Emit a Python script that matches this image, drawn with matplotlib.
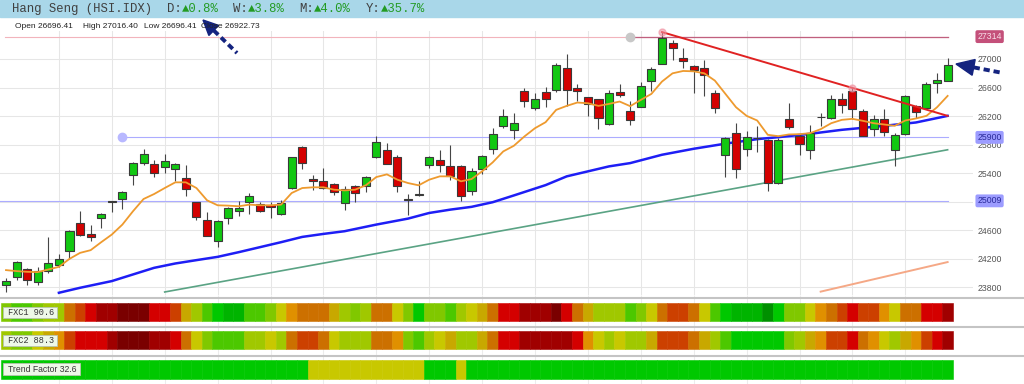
import numpy as np
import matplotlib
matplotlib.use("Agg")
from matplotlib import pyplot as plt
from matplotlib.patches import Rectangle, Polygon

plt.rcParams['font.family'] = ['Liberation Sans', 'DejaVu Sans']

# --- daily candles ---
opens = [23827, 23939, 24055, 23873, 24027, 24107, 24303, 24704, 24545, 24765,
         24989, 25035, 25367, 25539, 25530, 25479, 25460, 25334, 24989, 24746,
         24447, 24765, 24867, 24989, 24965, 24956, 24825, 25185, 25768, 25315,
         25292, 25245, 24979, 25222, 25213, 25619, 25717, 25628, 25035, 25091,
         25516, 25586, 25502, 25497, 25152, 25455, 25735, 26053, 26001, 26552,
         26314, 26538, 26566, 26869, 26589, 26463, 26435, 26085, 26538, 26277,
         26333, 26687, 26935, 27219, 27009, 26902, 26869, 26529, 25647, 25959,
         25731, 25885, 25866, 25259, 26160, 25913, 25726, 26179, 26169, 26435,
         26552, 26272, 26015, 26160, 25721, 25950, 26347, 26319, 26659, 26696.41]
highs = [23929, 24163, 24069, 24083, 24503, 24270, 24600, 24867, 24676, 24839,
         25012, 25143, 25553, 25740, 25586, 25665, 25535, 25507, 24998, 24853,
         24741, 24923, 25003, 25119, 24993, 24989, 25021, 25628, 25777, 25367,
         25469, 25259, 25213, 25231, 25353, 25922, 25819, 25656, 25105, 25287,
         25637, 25726, 25791, 25507, 25469, 25656, 26029, 26305, 26244, 26589,
         26529, 26613, 26939, 27070, 26645, 26473, 26445, 26566, 26650, 26407,
         26683, 26893, 27378, 27266, 27149, 26916, 26986, 26566, 25899, 26099,
         25983, 26053, 25875, 25889, 26379, 25945, 26076, 26249, 26496, 26529,
         26613, 26295, 26216, 26295, 25959, 26496, 26356, 26678, 26799, 27016.40]
lows = [23729, 23897, 23827, 23822, 23999, 24083, 24195, 24522, 24447, 24629,
        24849, 24895, 25227, 25511, 25348, 25399, 25287, 25073, 24741, 24513,
        24368, 24681, 24793, 24825, 24853, 24774, 24807, 25175, 25451, 25166,
        25175, 25087, 24886, 24998, 25138, 25605, 25521, 25133, 24807, 25082,
        25469, 25418, 25306, 25012, 25087, 25390, 25670, 26025, 25875, 26333,
        26281, 26333, 26543, 26347, 26417, 26197, 26015, 26071, 26463, 26067,
        26323, 26557, 26925, 26986, 26879, 26519, 26482, 26249, 25339, 25329,
        25633, 25689, 25152, 25250, 26015, 25656, 25595, 26062, 26160, 26249,
        26155, 25913, 25913, 25913, 25493, 25936, 26169, 26309, 26519, 26696.41]
closes = [23887, 24149, 23897, 24023, 24135, 24195, 24592, 24531, 24503, 24825,
          25003, 25129, 25544, 25665, 25404, 25567, 25525, 25180, 24783, 24522,
          24732, 24905, 24905, 25082, 24863, 24923, 24975, 25619, 25539, 25283,
          25185, 25133, 25175, 25124, 25343, 25829, 25530, 25213, 25021, 25105,
          25623, 25507, 25353, 25073, 25423, 25637, 25941, 26202, 26095, 26407,
          26445, 26445, 26911, 26561, 26557, 26375, 26174, 26529, 26501, 26141,
          26627, 26860, 27294, 27154, 26977, 26841, 26776, 26309, 25889, 25455,
          25903, 25894, 25259, 25866, 26043, 25801, 25959, 26188, 26435, 26361,
          26295, 25917, 26160, 25973, 25936, 26487, 26253, 26650, 26701, 26922.73]

# short average (orange), one value per candle
ma_short = [24037, 24023, 24013, 24009, 24046, 24083, 24195, 24279, 24317, 24429,
            24536, 24676, 24863, 25035, 25105, 25189, 25269, 25269, 25189, 25017,
            24947, 24942, 24933, 24956, 24947, 24947, 24956, 25119, 25189, 25199,
            25199, 25166, 25156, 25166, 25227, 25343, 25381, 25306, 25259, 25227,
            25306, 25353, 25353, 25283, 25315, 25423, 25549, 25703, 25782, 25913,
            26029, 26113, 26286, 26342, 26389, 26379, 26342, 26370, 26403, 26338,
            26426, 26510, 26683, 26799, 26832, 26827, 26799, 26697, 26510, 26323,
            26202, 26137, 25936, 25917, 25941, 25945, 25959, 26015, 26099, 26146,
            26160, 26132, 26099, 26081, 26062, 26137, 26165, 26202, 26323, 26482]

# long average (blue), read at some candles
ma_long_idx = [5, 7, 10, 12, 14, 16, 18, 20, 22, 24, 26, 28, 30, 32, 35, 38, 40, 42,
               44, 46, 48, 51, 53, 55, 57, 59, 62, 65, 68, 71, 73, 76, 79, 83, 86, 89]
ma_long = [23719, 23789, 23883, 23976, 24069, 24130, 24177, 24223, 24289, 24359,
           24429, 24503, 24545, 24583, 24676, 24760, 24839, 24886, 24925, 24990,
           25085, 25230, 25353, 25423, 25493, 25539, 25656, 25740, 25812, 25875,
           25903, 25950, 26006, 26062, 26109, 26202]

# drawn trend lines (candle index, price)
res_idx, res_val = [62, 89], [27378, 26202]
sup_idx, sup_val = [15, 89], [23730, 25726]
low_idx, low_val = [77, 89], [23735, 24150]

# horizontal levels
lvl_resist, lvl_mid, lvl_low = 27314, 25900, 25009
lvl_resist_from, lvl_mid_from = 59, 11

# indicator strips: colour level per candle (0 = deep red ... 13 = dark green)
fxc1 = [9, 10, 10, 9, 8, 8, 4, 3, 2, 1, 1, 0, 0, 0, 2, 2, 3, 6, 8, 10,
        11, 12, 12, 10, 10, 9, 7, 5, 4, 4, 4, 6, 8, 9, 8, 4, 4, 7, 9, 11,
        9, 9, 10, 8, 7, 6, 4, 2, 2, 1, 1, 1, 0, 2, 4, 6, 8, 8, 8, 10,
        9, 7, 4, 3, 3, 4, 7, 10, 11, 12, 12, 12, 13, 11, 9, 9, 7, 5, 4, 3,
        2, 3, 3, 5, 7, 4, 4, 2, 2, 1]
fxc2 = [8, 9, 9, 7, 6, 5, 3, 2, 2, 2, 1, 0, 0, 0, 1, 1, 2, 4, 7, 9,
        10, 10, 10, 8, 8, 7, 8, 4, 3, 3, 4, 7, 8, 8, 8, 4, 4, 5, 9, 10,
        8, 7, 6, 8, 8, 6, 4, 2, 2, 1, 1, 1, 1, 1, 2, 5, 7, 8, 7, 8,
        8, 6, 3, 3, 3, 4, 6, 8, 10, 11, 11, 11, 11, 11, 9, 8, 6, 5, 3, 3,
        2, 4, 5, 7, 8, 6, 5, 3, 2, 1]
trend = [11] * 29 + [7] * 11 + [11] * 3 + [7] + [11] * 46
fxc1_value, fxc2_value, trend_value = 90.6, 88.3, 32.6

palette = ['#7a0000', '#a00000', '#d40000', '#cc4000', '#cc7000', '#e09000', '#c8a800',
           '#c8c800', '#a0c800', '#80c800', '#4cc800', '#00c800', '#00b400', '#009000']

index_name = "Hang Seng (HSI.IDX)"
periods = ['D', 'W', 'M', 'Y']
changes = [0.8, 3.8, 4.0, 35.7]

price_ticks = [23800, 24200, 24600, 25000, 25400, 25800, 26200, 26600, 27000]

# --- layout helpers (pixels of the 1024x384 picture) ---
W, H = 1024, 384
X0, DX = 6.0, 10.58
PRICE0, PY0, PPP = 27000, 59, 14.035


def idx_of(px):
    return (px - X0) / DX


def price_of(py):
    return PRICE0 - (py - PY0) * PPP


fig = plt.figure(figsize=(W / 100, H / 100), dpi=100)
top_px, bot_px, right_px = 31, 295, 973

# main price panel
ax = fig.add_axes([0, 1 - bot_px / H, right_px / W, (bot_px - top_px) / H])
ax.set_xlim(idx_of(0), idx_of(right_px))
ax.set_ylim(price_of(bot_px), price_of(top_px))
for s in ax.spines.values():
    s.set_visible(False)
ax.set_xticks(range(5, 90, 5))
ax.tick_params(axis='x', length=0, labelbottom=False)
ax.yaxis.tick_right()
ax.set_yticks(price_ticks)
ax.set_yticklabels(['' if t == 25000 else str(t) for t in price_ticks])
ax.tick_params(axis='y', length=0, pad=3.2, labelsize=6.3, labelcolor='#555555')
ax.grid(True, color='#e6e6e6', lw=0.75)
ax.set_axisbelow(True)

x = np.arange(len(opens))
o, h, l, c = map(np.array, (opens, highs, lows, closes))
body_col = np.where(c >= o, '#12c812', '#d40000')

# levels
ax.plot([idx_of(5), 89], [lvl_resist] * 2, color='#f2b4bc', lw=0.8, zorder=2)
ax.plot([lvl_resist_from, 89], [lvl_resist] * 2, color='#c0607e', lw=0.9, zorder=2)
ax.plot([lvl_mid_from, 89], [lvl_mid] * 2, color='#acacff', lw=0.8, zorder=2)
ax.plot([idx_of(0), 89], [lvl_low] * 2, color='#acacff', lw=0.8, zorder=2)
ax.plot(lvl_resist_from, lvl_resist, 'o', ms=6, color='#c8c8c8', zorder=3)
ax.plot(lvl_mid_from, lvl_mid, 'o', ms=6, color='#b8b8ff', zorder=3)

# trend lines and averages
ax.plot(sup_idx, sup_val, color='#5aa384', lw=1.2, zorder=2)
ax.plot(low_idx, low_val, color='#f5a886', lw=1.4, zorder=2)
ax.plot(ma_long_idx, ma_long, color='#1e1ef5', lw=1.8, zorder=3)

ax.vlines(x, l, h, color='#454545', lw=0.8, zorder=4)
ax.bar(x, np.abs(c - o), bottom=np.minimum(o, c), width=0.76, color=body_col,
       edgecolor='#3a3a3a', lw=0.8, zorder=5)

ax.plot(x, ma_short, color='#ee9a2e', lw=1.3, zorder=6)
ax.plot(res_idx, res_val, color='#e02222', lw=1.4, zorder=6)
ax.plot([res_idx[0], 80], [res_val[0], 26598], 'o', ms=5, color='#f090a0',
        alpha=0.6, zorder=7, clip_on=False)

# price boxes on the scale
for val, fc, tc in [(lvl_resist, '#c4507a', '#f8dde8'), (lvl_mid, '#9c9cff', '#2a2a9a'),
                    (lvl_low, '#9c9cff', '#2a2a9a')]:
    ax.text(1.0045, val, str(val), transform=ax.get_yaxis_transform(), ha='left',
            va='center', fontsize=6.3, color=tc, zorder=10, clip_on=False,
            bbox=dict(boxstyle='round,pad=0.22', fc=fc, ec='none'))

# indicator strips
sax = fig.add_axes([0, 0, 1, 1 - bot_px / H])
sax.set_xlim(idx_of(0), idx_of(W))
sax.set_ylim(H, bot_px)
sax.axis('off')
sax.vlines(range(5, 90, 5), bot_px, H, color='#ececec', lw=0.75, zorder=0)
for yy in (297.5, 326.5, 355.5):
    sax.axhline(yy, color='#c4c4c4', lw=1.5, zorder=1)

rows = [(fxc1, 303, 18, f"FXC1 {fxc1_value}", 307, 11, 57, 'mono'),
        (fxc2, 331, 18.3, f"FXC2 {fxc2_value}", 335, 11, 57, 'mono'),
        (trend, 360, 19.3, f"Trend Factor {trend_value}", 363, 12, 80, 'sans')]
for vals, y0, hh, label, by, bh, bx1, kind in rows:
    cols = [palette[v] for v in vals]
    sax.bar(np.arange(len(vals)), hh, bottom=y0, width=1.0, color=cols,
            edgecolor=cols, lw=0.4, zorder=2)
    sax.add_patch(Rectangle((idx_of(3), by), (bx1 - 3) / DX, bh, fc='#eef8e8',
                            ec='#b8c4b0', lw=0.6, zorder=3))
    fam = ['Liberation Mono', 'DejaVu Sans Mono'] if kind == 'mono' else ['Liberation Sans']
    sax.text(idx_of(8), by + bh / 2 + 0.3, label, family=fam, fontsize=6.2,
             color='#333333', va='center', ha='left', zorder=4)

# header and notes in picture pixels
ov = fig.add_axes([0, 0, 1, 1], zorder=10)
ov.set_xlim(0, W)
ov.set_ylim(H, 0)
ov.axis('off')
ov.add_patch(Rectangle((0, 0), W, 17, color='#a9d7e9', zorder=0))

mono = ['Liberation Mono', 'DejaVu Sans Mono']
cw = 7.37
ov.text(12, 9, index_name, family=mono, fontsize=8.8, color='#404040', va='center')
col = len(index_name) + 2
for p, chg in zip(periods, changes):
    ov.text(12 + col * cw, 9, f"{p}:", family=mono, fontsize=8.8, color='#404040', va='center')
    ov.text(12 + (col + 2) * cw, 9, f"\u25b2{chg}%", family=mono, fontsize=8.8,
            color='#239b23', va='center')
    col += len(f"{p}:\u25b2{chg}%") + 2

for lab, val, px in [("Open", opens[-1], 15), ("High", highs[-1], 83),
                     ("Low", lows[-1], 144), ("Close", closes[-1], 201)]:
    ov.text(px, 26, f"{lab} {val:.2f}", fontsize=6.0, color='#222222', va='center')

navy = '#14237f'


def dashed_arrow(tip, tail, head_len, head_w):
    tip = np.array(tip, float)
    tail = np.array(tail, float)
    d = (tail - tip) / np.hypot(*(tail - tip))
    n = np.array([-d[1], d[0]])
    base = tip + d * head_len
    ov.plot([base[0], tail[0]], [base[1], tail[1]], color=navy, lw=2.8,
            ls=(0, (1.6, 1.0)), solid_capstyle='butt', dash_capstyle='butt')
    ov.add_patch(Polygon([tip, base + n * head_w / 2, base - n * head_w / 2],
                         closed=True, color=navy))


dashed_arrow((203, 20), (237, 53), 15, 14)
dashed_arrow((956, 64), (1003, 73), 18, 16)

fig.savefig("out.png", dpi=100)
